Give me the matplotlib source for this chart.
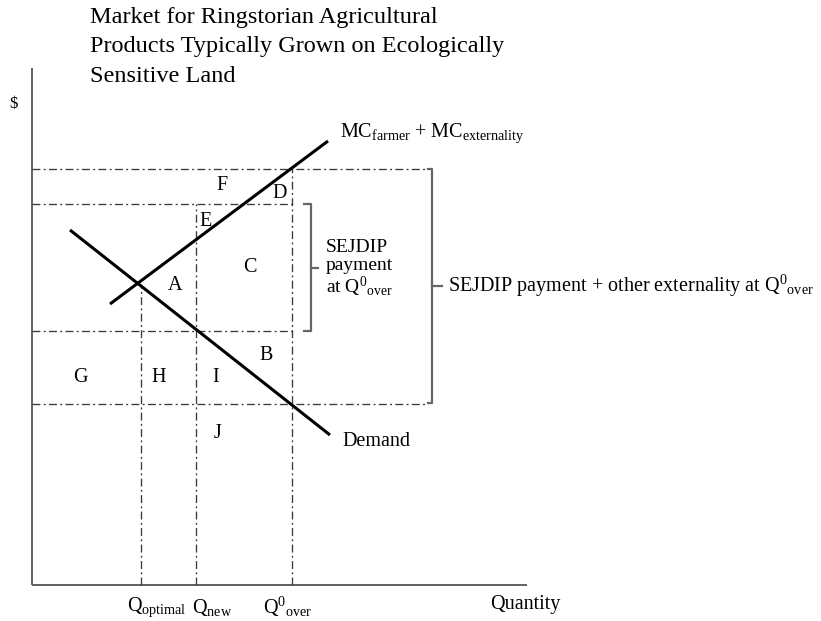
import matplotlib
matplotlib.use("Agg")
import matplotlib.pyplot as plt

plt.rcParams['font.family'] = ['Liberation Serif', 'DejaVu Serif']
plt.rcParams['mathtext.fontset'] = 'custom'
plt.rcParams['mathtext.rm'] = 'Liberation Serif'
plt.rcParams['mathtext.it'] = 'Liberation Serif:italic'
plt.rcParams['mathtext.bf'] = 'Liberation Serif:bold'

# ---- data (quantity / price units of the diagram) ----
title_lines = ["Market for Ringstorian Agricultural",
               "Products Typically Grown on Ecologically",
               "Sensitive Land"]
demand_q = [38, 298]
demand_p = [355, 150]
mc_q = [78, 296]
mc_p = [281, 444]
q_optimal = 109
q_new = 164
q_over = 260
p_optimal = 301
p_top = 416        # MC at Q0_over
p_sejdip = 381     # upper bound of SEJDIP payment
p_dem_new = 254    # demand price at Q_new
p_dem_over = 181   # demand price at Q0_over
x_max = 495
y_max = 517
area_labels = ["F", "D", "E", "C", "A", "B", "G", "H", "I", "J"]
area_q = [190, 248, 174, 218, 143, 234, 48, 127, 184, 185]
area_p = [400, 392, 364, 318, 299, 229, 207, 207, 207, 152]
q_tick_labels = [r"Q$_{\mathrm{optimal}}$", r"Q$_{\mathrm{new}}$",
                 r"Q$^{0}{}_{\mathrm{over}}$"]
sejdip_lines = ["SEJDIP", "payment", r"at Q$^{0}{}_{\mathrm{over}}$"]

fig = plt.figure(figsize=(8.21, 6.21), dpi=100)
ax = fig.add_axes([0, 0, 1, 1])
ax.set_xlim(-32, 789)
ax.set_ylim(-36, 585)
ax.axis('off')

axis_col = '#555555'
guide_col = '#3a3a3a'
dd = dict(color=guide_col, lw=0.95, dashes=(6, 2.5, 1.5, 2.5))
fs = 14.5

# axes
ax.plot([0, 0], [0, y_max], color=axis_col, lw=1.3, solid_capstyle='butt')
ax.plot([0, x_max], [0, 0], color=axis_col, lw=1.3, solid_capstyle='butt')

# guide lines
big_brace_x = 400
small_brace_x = 279
ax.plot([0, big_brace_x - 4], [p_top, p_top], **dd)
ax.plot([0, q_over], [p_sejdip, p_sejdip], **dd)
ax.plot([0, q_over], [p_dem_new, p_dem_new], **dd)
ax.plot([0, big_brace_x - 4], [p_dem_over, p_dem_over], **dd)
ax.plot([q_optimal, q_optimal], [0, p_optimal], **dd)
ax.plot([q_new, q_new], [0, p_sejdip], **dd)
ax.plot([q_over, q_over], [0, p_top], **dd)

# curves
ax.plot(demand_q, demand_p, color='black', lw=2.2, solid_capstyle='butt')
ax.plot(mc_q, mc_p, color='black', lw=2.2, solid_capstyle='butt')

# braces
brace_col = '#666666'
def brace(x, y0, y1, serif, tick):
    ax.plot([x - serif, x, x, x - serif], [y0, y0, y1, y1], color=brace_col, lw=1.6)
    ym = (y0 + y1) / 2
    ax.plot([x, x + tick], [ym, ym], color=brace_col, lw=1.6)
    return ym

ym_small = brace(small_brace_x, p_sejdip, p_dem_new, 7, 7)
ym_big = brace(big_brace_x, p_top, p_dem_over + 1, 4, 10)

# area labels
for lab, q, p in zip(area_labels, area_q, area_p):
    ax.text(q, p, lab, fontsize=fs, ha='center', va='center')

# curve labels
ax.text(310, 143, "Demand", fontsize=fs, ha='left', va='center')
ax.text(308, 452, r"MC$_{\mathrm{farmer}}$ + MC$_{\mathrm{externality}}$",
        fontsize=fs, ha='left', va='center')

# brace labels
ax.text(294, 316, "\n".join(sejdip_lines), fontsize=14, ha='left', va='center',
        linespacing=1.05, multialignment='left')
ax.text(416, ym_big, r"SEJDIP payment + other externality at Q$^{0}{}_{\mathrm{over}}$",
        fontsize=fs, ha='left', va='center')

# axis labels
ax.text(-19, 481, "$", fontsize=12, ha='center', va='center')
ax.text(458, -20, "Quantity", fontsize=fs, ha='left', va='center')
for lab, q, dx in zip(q_tick_labels, [q_optimal, q_new, q_over], [-14, -4, -29]):
    ax.text(q + dx, -22, lab, fontsize=fs, ha='left', va='center')

# title
for i, line in enumerate(title_lines):
    ax.text(58, 568 - 29.5 * i, line, fontsize=17.5, ha='left', va='center')

fig.savefig("out.png", dpi=100)
